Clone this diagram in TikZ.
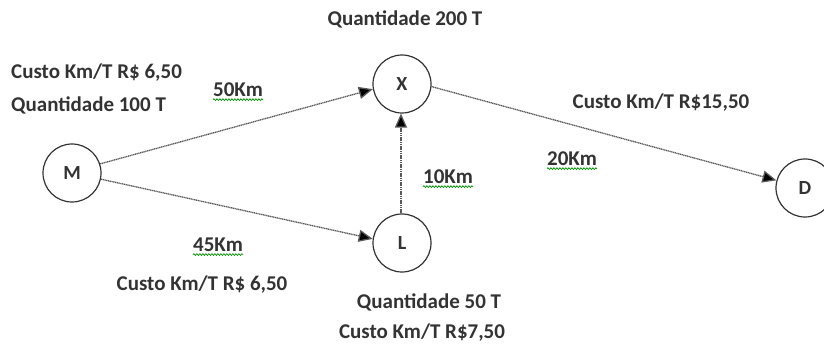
\documentclass[tikz,border=0pt]{standalone}
\usepackage{fontspec}
\setmainfont{Carlito}
\usetikzlibrary{arrows.meta,decorations.pathmorphing}
\begin{document}
\begin{tikzpicture}[x=1pt,y=-1pt,
  city/.style={draw=black!80,line width=1.2pt,circle,minimum size=58pt,inner sep=0pt,font=\fontsize{20}{22}\bfseries\selectfont,text=black!80},
  lbl/.style={font=\fontsize{21}{23}\bfseries\selectfont,text=black!80,inner sep=0pt},
  route/.style={draw=black!65,line width=1.3pt,dash pattern=on 1.2pt off 0.6pt,-{Triangle[length=14pt,width=12pt,fill=black]}},
  squig/.style={draw=green!55!black,line width=0.7pt,decorate,decoration={snake,amplitude=0.9pt,segment length=3pt}}]
\useasboundingbox (0,0) rectangle (824,347);
\node[city] (M) at (72,173) {M};
\node[city] (X) at (402,84) {X};
\node[city] (L) at (402,243) {L};
\node[city] (D) at (805,188) {D};
\draw[route] (M.18) -- (X.190);
\draw[route] (M.-12) -- (L.172);
\draw[route] (L.92) -- (X.-92);
\draw[route] (X.-5) -- (D.165);
\node[lbl] (q200) at (405,19) {Quantidade 200 T};
\node[lbl,anchor=west] (cM) at (11,73) {Custo Km/T R\$ 6,50};
\node[lbl,anchor=west] (qM) at (11,105) {Quantidade 100 T};
\node[lbl] (d50) at (238,90) {50Km};
\node[lbl] (cXD) at (661,103) {Custo Km/T R\$15,50};
\node[lbl] (d20) at (572,159) {20Km};
\node[lbl] (d10) at (448,177) {10Km};
\node[lbl] (d45) at (218,245) {45Km};
\node[lbl] (cML) at (202,285) {Custo Km/T R\$ 6,50};
\node[lbl] (qL) at (429,302) {Quantidade 50 T};
\node[lbl] (cL) at (422,333) {Custo Km/T R\$7,50};
\foreach \n in {d50,d20,d10,d45}{
  \draw[squig] ([yshift=-2.5pt]\n.south west) -- ([yshift=-2.5pt]\n.south east);
}
\end{tikzpicture}
\end{document}
